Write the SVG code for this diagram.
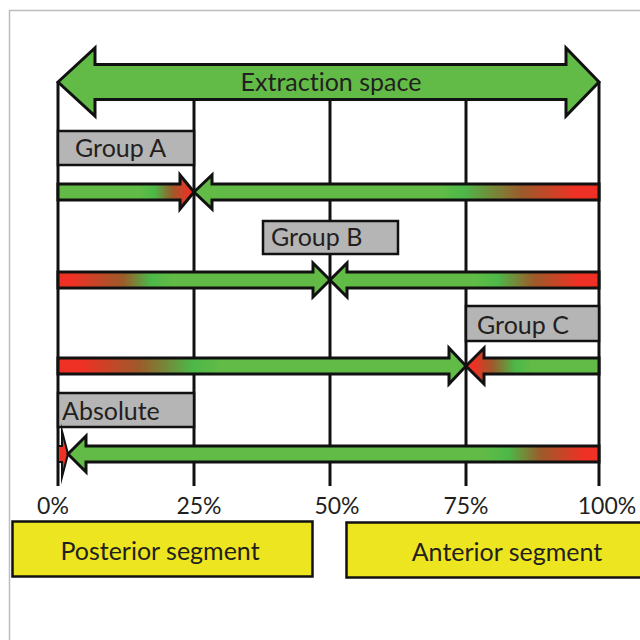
<svg xmlns="http://www.w3.org/2000/svg" width="640" height="640" viewBox="0 0 640 640">
<defs>
<style>
.frame{fill:none;stroke:#bdbdbd;stroke-width:1.5}
.vl{stroke:#111;stroke-width:3;fill:none}
.arr{stroke:#111;stroke-width:3;stroke-linejoin:miter;stroke-miterlimit:10}
.lab{fill:#b5b5b5;stroke:#111;stroke-width:2.5}
.seg{fill:#ede51f;stroke:#111;stroke-width:2.5}
text{font-family:Lato,"Open Sans","Liberation Sans",sans-serif;fill:#231f20;font-variant-ligatures:none}
.t22{font-size:25px}
.t20{font-size:23px}
</style>
<linearGradient id="gA1" gradientUnits="userSpaceOnUse" x1="58" y1="0" x2="194" y2="0">
<stop offset="0" stop-color="#62bb46"/><stop offset="0.6" stop-color="#62bb46"/><stop offset="0.71" stop-color="#4cb848"/><stop offset="0.84" stop-color="#9c5b2b"/><stop offset="0.97" stop-color="#ee3124"/><stop offset="1" stop-color="#ee3124"/>
</linearGradient>
<linearGradient id="gA2" gradientUnits="userSpaceOnUse" x1="212" y1="0" x2="599" y2="0">
<stop offset="0" stop-color="#62bb46"/><stop offset="0.59" stop-color="#62bb46"/><stop offset="0.65" stop-color="#4cb848"/><stop offset="0.8" stop-color="#9c5b2b"/><stop offset="0.94" stop-color="#ee3124"/><stop offset="1" stop-color="#ee3124"/>
</linearGradient>
<linearGradient id="gB1" gradientUnits="userSpaceOnUse" x1="58" y1="0" x2="330" y2="0">
<stop offset="0" stop-color="#ee3124"/><stop offset="0.05" stop-color="#ee3124"/><stop offset="0.24" stop-color="#9c5b2b"/><stop offset="0.34" stop-color="#4cb848"/><stop offset="0.42" stop-color="#62bb46"/><stop offset="1" stop-color="#62bb46"/>
</linearGradient>
<linearGradient id="gB2" gradientUnits="userSpaceOnUse" x1="346" y1="0" x2="599" y2="0">
<stop offset="0" stop-color="#62bb46"/><stop offset="0.5" stop-color="#62bb46"/><stop offset="0.6" stop-color="#4cb848"/><stop offset="0.74" stop-color="#9c5b2b"/><stop offset="0.92" stop-color="#ee3124"/><stop offset="1" stop-color="#ee3124"/>
</linearGradient>
<linearGradient id="gC1" gradientUnits="userSpaceOnUse" x1="58" y1="0" x2="466" y2="0">
<stop offset="0" stop-color="#ee3124"/><stop offset="0.06" stop-color="#ee3124"/><stop offset="0.2" stop-color="#9c5b2b"/><stop offset="0.33" stop-color="#4cb848"/><stop offset="0.4" stop-color="#62bb46"/><stop offset="1" stop-color="#62bb46"/>
</linearGradient>
<linearGradient id="gC2" gradientUnits="userSpaceOnUse" x1="466" y1="0" x2="599" y2="0">
<stop offset="0" stop-color="#ee3124"/><stop offset="0.06" stop-color="#ee3124"/><stop offset="0.2" stop-color="#9c5b2b"/><stop offset="0.37" stop-color="#4cb848"/><stop offset="0.5" stop-color="#62bb46"/><stop offset="1" stop-color="#62bb46"/>
</linearGradient>
<linearGradient id="gD2" gradientUnits="userSpaceOnUse" x1="68" y1="0" x2="599" y2="0">
<stop offset="0" stop-color="#62bb46"/><stop offset="0.78" stop-color="#62bb46"/><stop offset="0.83" stop-color="#4cb848"/><stop offset="0.89" stop-color="#9c5b2b"/><stop offset="0.97" stop-color="#ee3124"/><stop offset="1" stop-color="#ee3124"/>
</linearGradient>
</defs>
<rect width="640" height="640" fill="#ffffff"/>
<path class="frame" d="M9.5,640 V10.5 H640"/>

<g id="axis-lines">
<line class="vl" x1="58" y1="82" x2="58" y2="486"/>
<line class="vl" x1="194" y1="100" x2="194" y2="486"/>
<line class="vl" x1="330" y1="100" x2="330" y2="486"/>
<line class="vl" x1="466" y1="100" x2="466" y2="486"/>
<line class="vl" x1="599" y1="82" x2="599" y2="486"/>
</g>

<g id="extraction-space">
<polygon class="arr" fill="#62bb46" points="58,82 95,48 95,64.5 566,64.5 566,48 599,82 566,116 566,99.5 95,99.5 95,116"/>
<text class="t22" x="331" y="91" text-anchor="middle">Extraction space</text>
</g>

<g id="group-a">
<rect class="lab" x="58" y="131" width="136" height="34"/>
<text class="t22" x="75" y="157">Group A</text>
</g>
<g id="group-b">
<rect class="lab" x="263" y="221" width="135" height="33"/>
<text class="t22" x="271" y="246">Group B</text>
</g>
<g id="group-c">
<rect class="lab" x="466" y="306" width="133" height="35"/>
<text class="t22" x="477" y="334">Group C</text>
</g>
<g id="absolute">
<rect class="lab" x="58" y="393" width="136" height="34"/>
<text class="t22" x="62" y="420">Absolute</text>
</g>

<g id="connectors">
<polygon class="arr" fill="url(#gA1)" points="58,184 180,184 180,175 194,192 180,209 180,200 58,200"/>
<polygon class="arr" fill="url(#gA2)" points="194,192 212,175 212,184 599,184 599,200 212,200 212,209"/>
<polygon class="arr" fill="url(#gB1)" points="58,272 313,272 313,263 330,280 313,297 313,288 58,288"/>
<polygon class="arr" fill="url(#gB2)" points="330,280 347,263 347,272 599,272 599,288 347,288 347,297"/>
<polygon class="arr" fill="url(#gC1)" points="58,358 449,358 449,348 466,366 449,384 449,374 58,374"/>
<polygon class="arr" fill="url(#gC2)" points="466,366 484,348 484,358 599,358 599,374 484,374 484,384"/>
<polygon class="arr" fill="#ee3124" points="58,446 62,446 62,431 68,454 62,477 62,462 58,462" style="stroke-width:2"/>
<polygon class="arr" fill="url(#gD2)" points="68,454 86,436 86,446 599,446 599,462 86,462 86,472"/>
</g>

<g id="percent-labels">
<text class="t20" x="53" y="514" text-anchor="middle">0%</text>
<text class="t20" x="199" y="514" text-anchor="middle">25%</text>
<text class="t20" x="337" y="514" text-anchor="middle">50%</text>
<text class="t20" x="466" y="514" text-anchor="middle">75%</text>
<text class="t20" x="607" y="514" text-anchor="middle">100%</text>
</g>

<g id="posterior-segment">
<rect class="seg" x="12.5" y="521.5" width="300" height="55"/>
<text class="t22" x="160" y="560" text-anchor="middle">Posterior segment</text>
</g>
<g id="anterior-segment">
<rect class="seg" x="346.5" y="522.5" width="300" height="55"/>
<text class="t22" x="507" y="561" text-anchor="middle">Anterior segment</text>
</g>
</svg>
